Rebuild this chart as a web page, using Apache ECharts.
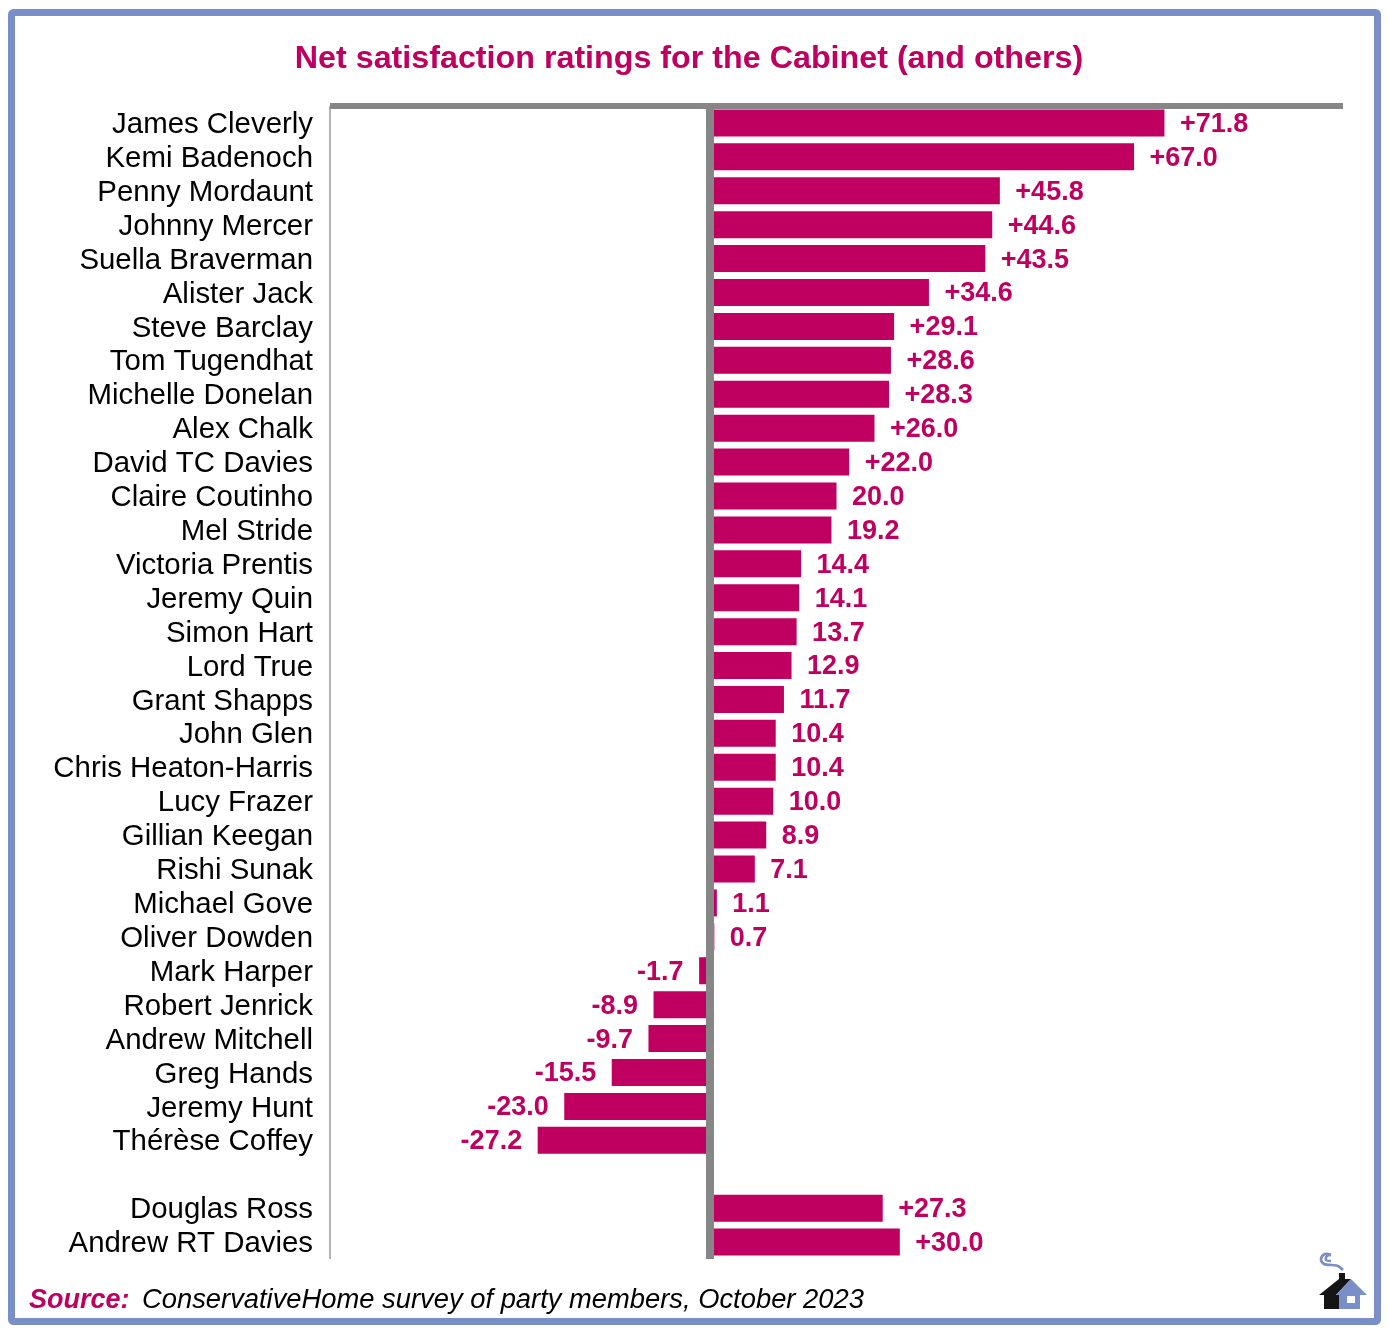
<!DOCTYPE html>
<html>
<head>
<meta charset="utf-8">
<title>Net satisfaction ratings</title>
<script src="https://cdn.jsdelivr.net/npm/echarts@6/dist/echarts.min.js"></script>
<style>
  html, body { margin: 0; padding: 0; background: #fff; }
  #chart { width: 1388px; height: 1332px; }
</style>
</head>
<body>
<div id="chart"></div>
<script>
// blank entry keeps the gap before the two devolved leaders
const names = [
  'James Cleverly', 'Kemi Badenoch', 'Penny Mordaunt', 'Johnny Mercer', 'Suella Braverman',
  'Alister Jack', 'Steve Barclay', 'Tom Tugendhat', 'Michelle Donelan', 'Alex Chalk',
  'David TC Davies', 'Claire Coutinho', 'Mel Stride', 'Victoria Prentis', 'Jeremy Quin',
  'Simon Hart', 'Lord True', 'Grant Shapps', 'John Glen', 'Chris Heaton-Harris',
  'Lucy Frazer', 'Gillian Keegan', 'Rishi Sunak', 'Michael Gove', 'Oliver Dowden',
  'Mark Harper', 'Robert Jenrick', 'Andrew Mitchell', 'Greg Hands', 'Jeremy Hunt',
  'Thérèse Coffey', '', 'Douglas Ross', 'Andrew RT Davies'
];
const ratings = [
  71.8, 67.0, 45.8, 44.6, 43.5,
  34.6, 29.1, 28.6, 28.3, 26.0,
  22.0, 20.0, 19.2, 14.4, 14.1,
  13.7, 12.9, 11.7, 10.4, 10.4,
  10.0, 8.9, 7.1, 1.1, 0.7,
  -1.7, -8.9, -9.7, -15.5, -23.0,
  -27.2, null, 27.3, 30.0
];

const PINK = '#c00060';
const GREY = '#868686';
const BLUE = '#7a8fc8';
const FONT = '"Liberation Sans", Arial, sans-serif';

const chart = echarts.init(document.getElementById('chart'), null, { renderer: 'canvas' });

function ratingLabel(v) {
  // the source only puts a plus sign on ratings above 20
  return (v > 20 ? '+' : '') + v.toFixed(1);
}

const option = {
  animation: false,
  backgroundColor: '#fff',
  title: {
    text: 'Net satisfaction ratings for the Cabinet (and others)',
    left: 684,
    top: 38,
    textAlign: 'center',
    textStyle: { color: PINK, fontFamily: FONT, fontWeight: 'bold', fontSize: 32.25 }
  },
  grid: { left: 330, right: 45, top: 106, height: 1153 },
  xAxis: {
    type: 'value',
    position: 'top',
    min: -60,
    max: 100,
    axisLine: { show: true, onZero: false, lineStyle: { color: GREY, width: 6, cap: 'butt' } },
    axisTick: { show: false },
    axisLabel: { show: false },
    splitLine: { show: false }
  },
  yAxis: [
    {
      type: 'category',
      inverse: true,
      position: 'left',
      data: names,
      axisLine: { show: true, onZero: false, lineStyle: { color: '#b4b4b4', width: 2, cap: 'butt' } },
      axisTick: { show: false },
      axisLabel: {
        interval: 0,
        margin: 17,
        // rich token so the padding nudges the names down to the bar centres
        formatter: v => (v ? '{n|' + v + '}' : ''),
        rich: { n: { padding: [4, 0, 0, 0], color: '#000', fontFamily: FONT, fontSize: 29.4 } }
      }
    },
    {
      // thick zero line
      type: 'category',
      inverse: true,
      data: names,
      axisLine: { show: true, onZero: true, lineStyle: { color: GREY, width: 8, cap: 'butt' } },
      axisTick: { show: false },
      axisLabel: { show: false },
      z: 5
    }
  ],
  series: [
    {
      type: 'bar',
      data: ratings,
      barWidth: 27,
      itemStyle: { color: PINK },
      label: {
        show: true,
        position: 'outside',
        distance: 15.5,
        offset: [0, 1.5],
        color: PINK,
        fontFamily: FONT,
        fontWeight: 'bold',
        fontSize: 27,
        formatter: p => ratingLabel(p.value)
      },
      z: 2
    }
  ],
  graphic: [
    // frame
    {
      type: 'rect',
      shape: { x: 11.5, y: 12.5, width: 1366, height: 1309, r: 2 },
      style: { fill: 'none', stroke: BLUE, lineWidth: 7 },
      z: 10
    },
    // source line
    {
      type: 'text',
      x: 29,
      y: 1287,
      style: { text: 'Source:', fill: PINK, font: 'italic bold 27px ' + FONT },
      z: 10
    },
    {
      type: 'text',
      x: 142,
      y: 1287,
      style: {
        text: 'ConservativeHome survey of party members, October 2023',
        fill: '#000',
        font: 'italic 27.35px ' + FONT
      },
      z: 10
    },
    // house logo
    {
      type: 'polygon',
      shape: { points: [[1339, 1273], [1345, 1273], [1345, 1279], [1351, 1279], [1336, 1295], [1339, 1295], [1339, 1309], [1324, 1309], [1324, 1295], [1319, 1295], [1339, 1279]] },
      style: { fill: '#151515' },
      z: 10
    },
    {
      type: 'polygon',
      shape: { points: [[1351, 1279], [1367, 1295], [1360, 1295], [1360, 1309], [1339, 1309], [1339, 1295], [1336, 1295]] },
      style: { fill: BLUE },
      z: 10
    },
    {
      type: 'rect',
      shape: { x: 1347, y: 1296, width: 8, height: 7 },
      style: { fill: '#fff' },
      z: 11
    },
    // smoke
    {
      type: 'polyline',
      shape: { points: [[1331, 1255], [1325, 1254], [1321, 1259], [1324, 1264], [1332, 1265], [1338, 1266], [1343, 1270]], smooth: 0.4 },
      style: { fill: 'none', stroke: BLUE, lineWidth: 2.6 },
      z: 10
    },
    {
      type: 'polyline',
      shape: { points: [[1331, 1255], [1327, 1256], [1326, 1260], [1331, 1261]], smooth: 0.4 },
      style: { fill: 'none', stroke: BLUE, lineWidth: 2.6 },
      z: 10
    }
  ]
};

chart.setOption(option);
</script>
</body>
</html>
